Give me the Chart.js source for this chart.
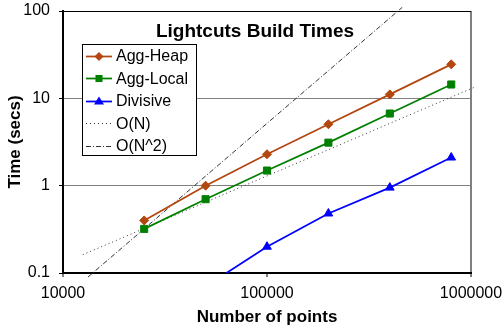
<!DOCTYPE html>
<html><head><meta charset="utf-8">
<script src="https://cdn.jsdelivr.net/npm/chart.js@4/dist/chart.umd.min.js"></script>
<style>html,body{margin:0;padding:0;background:#fff}canvas{display:block}</style>
</head><body>
<canvas id="c" width="504" height="332"></canvas>
<script>
const pointCounts = [25000, 50000, 100000, 200000, 400000, 800000];
const aggHeap  = [0.40, 1.00, 2.29, 5.05, 11.1, 24.5];
const aggLocal = [0.32, 0.70, 1.49, 3.11, 6.7, 14.4];
const divisive = [null, 0.07, 0.20, 0.48, 0.95, 2.1];
const linearRefN = [12500, 1047000];
const linearRefT = [0.162, 13.5];
const quadRefN = [13260, 460000];
const quadRefT = [0.09, 110];
const xTicks = [10000, 100000, 1000000];
const yTicks = [0.1, 1, 10, 100];
const xTickLabels = ['10000', '100000', '1000000'];
const yTickLabels = ['0.1', '1', '10', '100'];
const seriesNames = ['Agg-Heap', 'Agg-Local', 'Divisive', 'O(N)', 'O(N^2)'];
const chartTitle = 'Lightcuts Build Times';
const xTitle = 'Number of points';
const yTitle = 'Time (secs)';

const FAM = 'Arial, "Liberation Sans", Helvetica, sans-serif';
function pts(xs, ys) { return xs.map((x, i) => ({x: x, y: ys[i]})).filter(p => p.y != null); }

const styles = [
  {color: '#B4460F', point: 'rectRot', r: 4.5, dash: [], w: 1.75},
  {color: '#008000', point: 'rect', r: 5, dash: [], w: 1.75},
  {color: '#0000FF', point: 'triangle', r: 5, dash: [], w: 1.75},
  {color: '#333333', point: false, r: 0, dash: [1, 3], w: 1},
  {color: '#333333', point: false, r: 0, dash: [5, 2, 1, 2], w: 1}
];
const seriesData = [
  pts(pointCounts, aggHeap),
  pts(pointCounts, aggLocal),
  pts(pointCounts, divisive),
  pts(linearRefN, linearRefT),
  pts(quadRefN, quadRefT)
];

const datasets = seriesNames.map((name, i) => ({
  label: name,
  data: seriesData[i],
  showLine: true,
  borderColor: styles[i].color,
  backgroundColor: styles[i].color,
  borderWidth: styles[i].w,
  borderDash: styles[i].dash,
  pointStyle: styles[i].point || 'circle',
  pointRadius: styles[i].r,
  pointHoverRadius: styles[i].r,
  pointBorderWidth: 1,
  pointBorderColor: styles[i].color,
  pointBackgroundColor: styles[i].color,
  tension: 0,
  clip: i >= 3 ? false : undefined,
  order: i >= 3 ? 10 : i
}));

function drawMarker(ctx, style, x, y, r, color) {
  ctx.save();
  ctx.fillStyle = color;
  ctx.beginPath();
  if (style === 'rectRot') {
    ctx.moveTo(x, y - r); ctx.lineTo(x + r, y); ctx.lineTo(x, y + r); ctx.lineTo(x - r, y);
  } else if (style === 'rect') {
    const s = r * Math.SQRT1_2;
    ctx.rect(x - s, y - s, 2 * s, 2 * s);
  } else if (style === 'triangle') {
    ctx.moveTo(x, y - r); ctx.lineTo(x + r, y + r * 0.6); ctx.lineTo(x - r, y + r * 0.6);
  }
  ctx.closePath();
  ctx.fill();
  ctx.restore();
}

const overlay = {
  id: 'overlay',
  afterDatasetsDraw(chart) {
    const ctx = chart.ctx, a = chart.chartArea;
    ctx.save();
    ctx.fillStyle = '#000';
    ctx.font = 'bold 19px ' + FAM;
    ctx.textAlign = 'center';
    ctx.textBaseline = 'alphabetic';
    ctx.fillText(chartTitle, a.left + 192, 37);
    const bx = a.left + 19, by = 44, bw = 115, bh = 112;
    ctx.fillStyle = '#fff';
    ctx.fillRect(bx, by, bw, bh);
    ctx.strokeStyle = '#000';
    ctx.lineWidth = 1;
    ctx.setLineDash([]);
    ctx.strokeRect(bx + 0.5, by + 0.5, bw - 1, bh - 1);
    ctx.font = '16px ' + FAM;
    ctx.textAlign = 'left';
    ctx.textBaseline = 'middle';
    seriesNames.forEach((name, i) => {
      const y = 56 + i * 22.4;
      const st = styles[i];
      ctx.strokeStyle = st.color;
      ctx.lineWidth = st.w;
      ctx.setLineDash(st.dash);
      ctx.beginPath();
      ctx.moveTo(bx + 4, Math.round(y) + 0.5);
      ctx.lineTo(bx + 30, Math.round(y) + 0.5);
      ctx.stroke();
      ctx.setLineDash([]);
      if (st.point) drawMarker(ctx, st.point, bx + 17, Math.round(y) + 0.5, st.r, st.color);
      ctx.fillStyle = '#000';
      ctx.fillText(name, bx + 34, y + 1);
    });
    ctx.restore();
  }
};

function zeroPad(s) { s.paddingTop = 0; s.paddingBottom = 0; s.paddingLeft = 0; s.paddingRight = 0; }

new Chart(document.getElementById('c'), {
  type: 'scatter',
  data: {datasets: datasets},
  plugins: [overlay],
  options: {
    responsive: false,
    animation: false,
    devicePixelRatio: 1,
    layout: {padding: {top: 11, right: 33, left: 0, bottom: 0}},
    plugins: {legend: {display: false}, title: {display: false}, tooltip: {enabled: false}},
    scales: {
      x: {
        type: 'logarithmic',
        position: 'bottom',
        min: 10000, max: 1000000,
        afterBuildTicks: s => { s.ticks = xTicks.map(v => ({value: v})); },
        afterFit: s => { s.height = 59; zeroPad(s); },
        ticks: {
          callback: (v, i) => xTickLabels[i],
          font: {size: 16, family: FAM}, color: '#000', padding: 7,
          maxRotation: 0, autoSkip: false
        },
        grid: {
          color: c => (c.tick && c.tick.value === 1000000) ? '#808080' : 'rgba(0,0,0,0)',
          lineWidth: 2,
          tickColor: '#000', tickLength: 4, tickWidth: 1
        },
        border: {color: '#000', width: 2},
        title: {display: true, text: xTitle, color: '#000', font: {size: 17, weight: 'bold', family: FAM}, padding: {top: 0, bottom: 4}}
      },
      y: {
        type: 'logarithmic',
        position: 'left',
        min: 0.1, max: 100,
        afterBuildTicks: s => { s.ticks = yTicks.map(v => ({value: v})); },
        afterFit: s => { s.width = 63; zeroPad(s); },
        ticks: {
          callback: (v, i) => yTickLabels[i],
          font: {size: 16, family: FAM}, color: '#000', padding: 9, autoSkip: false
        },
        grid: {
          color: c => (c.tick && c.tick.value === 0.1) ? 'rgba(0,0,0,0)' : (c.tick && c.tick.value === 100 ? '#000' : '#808080'),
          lineWidth: 1,
          tickColor: '#000', tickLength: 4, tickWidth: 1
        },
        border: {color: '#000', width: 2},
        title: {display: true, text: yTitle, color: '#000', font: {size: 17, weight: 'bold', family: FAM}, padding: {top: 5, bottom: 0}}
      }
    }
  }
});
</script>
</body></html>
